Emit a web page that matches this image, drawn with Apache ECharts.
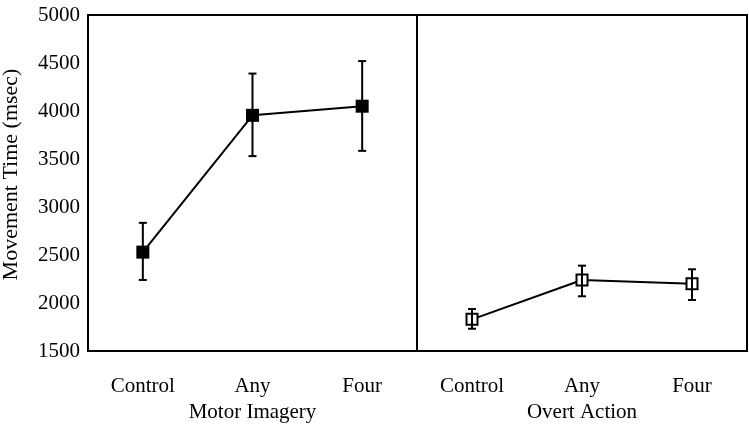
<!DOCTYPE html>
<html>
<head>
<meta charset="utf-8">
<script src="https://cdn.jsdelivr.net/npm/echarts@6/dist/echarts.min.js"></script>
<style>
  html, body { margin: 0; padding: 0; background: #fff; }
  #chart { width: 749px; height: 427px; }
</style>
</head>
<body>
<div id="chart"></div>
<script>
const categories = ["Control", "Any", "Four"];

// Motor Imagery (filled squares)
const imageryMean = [2530, 3955, 4050];
const imageryLow = [2240, 3530, 3585];
const imageryHigh = [2835, 4390, 4520];

// Overt Action (open squares)
const overtMean = [1830, 2240, 2200];
const overtLow = [1732, 2070, 2031];
const overtHigh = [1937, 2389, 2351];

const font = "Liberation Serif, Times New Roman, serif";

function errorBars(low, high, axisIdx) {
  return {
    type: "custom",
    xAxisIndex: axisIdx,
    yAxisIndex: axisIdx,
    z: 5,
    data: categories.map((c, i) => [i, low[i], high[i]]),
    renderItem: function (params, api) {
      const lo = api.coord([api.value(0), api.value(1)]);
      const hi = api.coord([api.value(0), api.value(2)]);
      const w = 4;
      const style = { stroke: "#000", lineWidth: 2 };
      return {
        type: "group",
        children: [
          { type: "line", shape: { x1: lo[0], y1: lo[1], x2: hi[0], y2: hi[1] }, style: style },
          { type: "line", shape: { x1: lo[0] - w, y1: lo[1], x2: lo[0] + w, y2: lo[1] }, style: style },
          { type: "line", shape: { x1: hi[0] - w, y1: hi[1], x2: hi[0] + w, y2: hi[1] }, style: style }
        ]
      };
    }
  };
}

const yBase = {
  type: "value",
  min: 1500,
  max: 5000,
  interval: 500,
  splitLine: { show: false },
  axisTick: { show: false },
  axisLine: { show: false }
};

const xBase = {
  type: "category",
  data: categories,
  boundaryGap: true,
  axisLine: { show: false },
  axisTick: { show: false },
  axisLabel: { margin: 25, color: "#000", fontFamily: font, fontSize: 21 },
  nameLocation: "middle",
  nameGap: 51,
  nameTextStyle: { color: "#000", fontFamily: font, fontSize: 21 }
};

const gridBase = {
  top: 15,
  height: 336,
  show: true,
  borderColor: "#000",
  borderWidth: 2,
  backgroundColor: "transparent",
  containLabel: false,
  outerBoundsMode: "none"
};

const option = {
  animation: false,
  backgroundColor: "#fff",
  grid: [
    Object.assign({}, gridBase, { left: 88, width: 329 }),
    Object.assign({}, gridBase, { left: 417, width: 330 })
  ],
  xAxis: [
    Object.assign({}, xBase, { gridIndex: 0, name: "Motor Imagery" }),
    Object.assign({}, xBase, { gridIndex: 1, name: "Overt Action" })
  ],
  yAxis: [
    Object.assign({}, yBase, {
      gridIndex: 0,
      name: "Movement Time (msec)",
      nameLocation: "middle",
      nameGap: 66,
      nameTextStyle: { color: "#000", fontFamily: font, fontSize: 22, padding: [0, 0, 0, 17] },
      axisLabel: {
        margin: 8,
        color: "#000",
        fontFamily: font,
        fontSize: 21,
        formatter: function (v) { return String(v); }
      }
    }),
    Object.assign({}, yBase, { gridIndex: 1, axisLabel: { show: false } })
  ],
  series: [
    {
      type: "line",
      xAxisIndex: 0,
      yAxisIndex: 0,
      data: imageryMean,
      symbol: "rect",
      symbolSize: 13,
      itemStyle: { color: "#000" },
      lineStyle: { color: "#000", width: 2 },
      z: 3
    },
    errorBars(imageryLow, imageryHigh, 0),
    {
      type: "line",
      xAxisIndex: 1,
      yAxisIndex: 1,
      data: overtMean,
      symbol: "emptyRect",
      symbolSize: 11,
      showAllSymbol: true,
      itemStyle: { color: "#000", borderWidth: 2 },
      lineStyle: { color: "#000", width: 2 },
      z: 3
    },
    errorBars(overtLow, overtHigh, 1)
  ]
};

const chart = echarts.init(document.getElementById("chart"));
chart.setOption(option);
</script>
</body>
</html>
